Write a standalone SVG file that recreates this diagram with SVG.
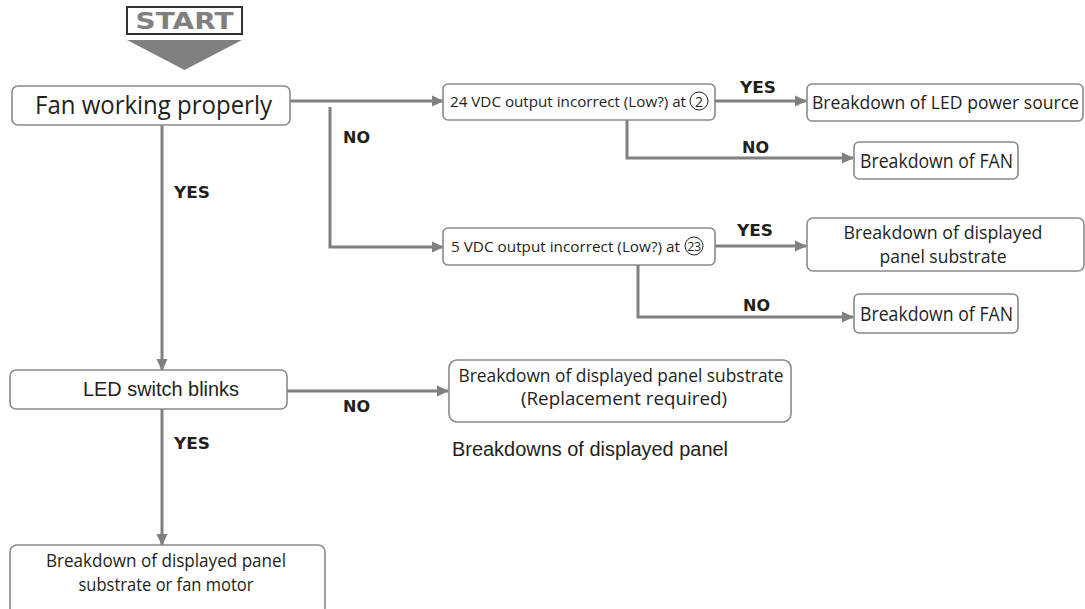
<svg xmlns="http://www.w3.org/2000/svg" width="1085" height="609" viewBox="0 0 1085 609">
<defs>
<marker id="arr" markerWidth="12" markerHeight="12" refX="11" refY="6" orient="auto" markerUnits="userSpaceOnUse">
<path d="M0,0.5 L12,6 L0,11.5 Z" fill="#808080"/>
</marker>
<style>
.box{fill:#fff;stroke:#8a8a8a;stroke-width:1.6}
.t{font-family:"Open Sans","Noto Sans",sans-serif;fill:#231f20}
.a{font-family:"Liberation Sans",Arial,sans-serif;fill:#231f20}
.lbl{font-family:"DejaVu Sans",sans-serif;font-weight:900;font-size:16px;fill:#231f20}
.con{fill:none;stroke:#808080;stroke-width:3}
.cir{fill:none;stroke:#231f20;stroke-width:1}
</style>
</defs>
<rect width="1085" height="609" fill="#fff"/>

<g id="start">
<rect x="127" y="7" width="115" height="27" fill="#fff" stroke="#333" stroke-width="2"/>
<text x="184.5" y="29" text-anchor="middle" font-family="'DejaVu Sans',sans-serif" font-weight="bold" font-size="23" fill="#808080" textLength="98" lengthAdjust="spacingAndGlyphs">START</text>
<path d="M127,40 L242,40 L184.5,70 Z" fill="#808080"/>
</g>

<g id="connectors">
<path class="con" d="M290,101 H443" marker-end="url(#arr)"/>
<path class="con" d="M330,107 V247 H443" marker-end="url(#arr)"/>
<path class="con" d="M715,101 H806" marker-end="url(#arr)"/>
<path class="con" d="M627,120 V158 H853" marker-end="url(#arr)"/>
<path class="con" d="M715,246 H806" marker-end="url(#arr)"/>
<path class="con" d="M638,265 V317 H853" marker-end="url(#arr)"/>
<path class="con" d="M162,125 V370" marker-end="url(#arr)"/>
<path class="con" d="M287,391 H448" marker-end="url(#arr)"/>
<path class="con" d="M162,409 V545" marker-end="url(#arr)"/>
<text class="lbl" x="343" y="143" textLength="27" lengthAdjust="spacingAndGlyphs">NO</text>
<text class="lbl" x="174" y="198" textLength="36" lengthAdjust="spacingAndGlyphs">YES</text>
<text class="lbl" x="740" y="93" textLength="36" lengthAdjust="spacingAndGlyphs">YES</text>
<text class="lbl" x="742" y="153" textLength="27" lengthAdjust="spacingAndGlyphs">NO</text>
<text class="lbl" x="737" y="236" textLength="36" lengthAdjust="spacingAndGlyphs">YES</text>
<text class="lbl" x="743" y="311" textLength="27" lengthAdjust="spacingAndGlyphs">NO</text>
<text class="lbl" x="343" y="412" textLength="27" lengthAdjust="spacingAndGlyphs">NO</text>
<text class="lbl" x="174" y="449" textLength="36" lengthAdjust="spacingAndGlyphs">YES</text>
</g>

<g id="fan">
<rect class="box" x="12" y="86" width="278" height="39" rx="6"/>
<text class="t" x="35" y="114" font-size="26" textLength="237" lengthAdjust="spacingAndGlyphs">Fan working properly</text>
</g>

<g id="v24">
<rect class="box" x="443" y="84" width="272" height="36" rx="5"/>
<circle class="cir" cx="699" cy="101" r="9"/>
<text class="t" x="450" y="107" font-size="15.2">24 VDC output incorrect (Low?) at<tspan x="699" text-anchor="middle" font-size="14">2</tspan></text>
</g>

<g id="ledpower">
<rect class="box" x="807" y="84" width="276" height="37" rx="5"/>
<text class="t" x="812" y="109" font-size="17.5" textLength="267" lengthAdjust="spacingAndGlyphs">Breakdown of LED power source</text>
</g>

<g id="fan1">
<rect class="box" x="854" y="142" width="164" height="37" rx="5"/>
<text class="t" x="860" y="167.5" font-size="19.5" textLength="153" lengthAdjust="spacingAndGlyphs">Breakdown of FAN</text>
</g>

<g id="v5">
<rect class="box" x="443" y="228" width="272" height="37" rx="5"/>
<circle class="cir" cx="694" cy="246" r="9"/>
<text class="t" x="451" y="252" font-size="15.3">5 VDC output incorrect (Low?) at<tspan x="694" y="251" text-anchor="middle" font-size="12.5" letter-spacing="-0.5">23</tspan></text>
</g>

<g id="panel1">
<rect class="box" x="807" y="218" width="277" height="53" rx="6"/>
<text class="t" x="943" y="238.5" font-size="18.5" text-anchor="middle" textLength="199" lengthAdjust="spacingAndGlyphs">Breakdown of displayed</text>
<text class="t" x="943" y="262.5" font-size="18.5" text-anchor="middle" textLength="127" lengthAdjust="spacingAndGlyphs">panel substrate</text>
</g>

<g id="fan2">
<rect class="box" x="854" y="294" width="164" height="39" rx="5"/>
<text class="t" x="860" y="320.5" font-size="19.5" textLength="153" lengthAdjust="spacingAndGlyphs">Breakdown of FAN</text>
</g>

<g id="ledswitch">
<rect class="box" x="10" y="370" width="277" height="39" rx="6"/>
<text class="a" x="161" y="396" font-size="20" text-anchor="middle" textLength="156" lengthAdjust="spacingAndGlyphs">LED switch blinks</text>
</g>

<g id="replace">
<rect class="box" x="449" y="360" width="342" height="62" rx="8"/>
<text class="t" x="621" y="381.5" font-size="18.5" text-anchor="middle" textLength="325" lengthAdjust="spacingAndGlyphs">Breakdown of displayed panel substrate</text>
<text class="t" x="624" y="405" font-size="18.5" text-anchor="middle" textLength="206" lengthAdjust="spacingAndGlyphs">(Replacement required)</text>
</g>

<g id="note">
<text class="a" x="452" y="456" font-size="19.5" textLength="276" lengthAdjust="spacingAndGlyphs">Breakdowns of displayed panel</text>
</g>

<g id="final">
<rect class="box" x="10" y="545" width="315" height="70" rx="7"/>
<text class="t" x="166" y="567" font-size="18" text-anchor="middle" textLength="240" lengthAdjust="spacingAndGlyphs">Breakdown of displayed panel</text>
<text class="t" x="166" y="591" font-size="18" text-anchor="middle" textLength="175" lengthAdjust="spacingAndGlyphs">substrate or fan motor</text>
</g>
</svg>
